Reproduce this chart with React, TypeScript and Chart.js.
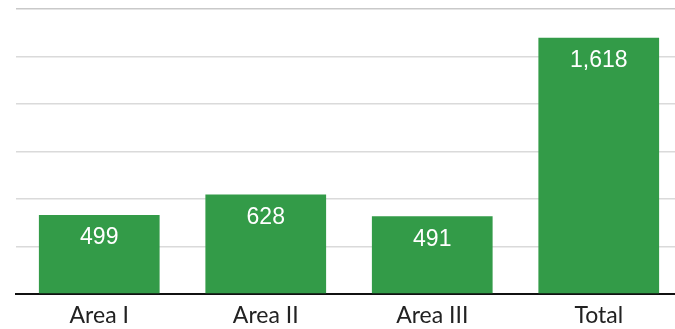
import React, { useEffect, useRef } from "react";
import { Chart, registerables } from "chart.js";

Chart.register(...registerables);

const categories = ["Area I", "Area II", "Area III", "Total"];
const values = [499, 628, 491, 1618];
const yMax = 1800;
const yStep = 300;

const barColor = "#339b48";

// Writes each bar's value in white just below its top edge
const valueLabels = {
  id: "valueLabels",
  afterDatasetsDraw(chart: any) {
    const ctx = chart.ctx;
    const meta = chart.getDatasetMeta(0);
    ctx.save();
    ctx.fillStyle = "#ffffff";
    ctx.font = '23px "Liberation Sans", Arial, sans-serif';
    ctx.textAlign = "center";
    ctx.textBaseline = "middle";
    meta.data.forEach((bar: any, i: number) => {
      ctx.fillText(values[i].toLocaleString("en-US"), bar.x, bar.y + 23);
    });
    ctx.restore();
  },
};

export default function App() {
  const canvasRef = useRef<HTMLCanvasElement | null>(null);

  useEffect(() => {
    document.body.style.margin = "0";
    const chart = new Chart(canvasRef.current as HTMLCanvasElement, {
      type: "bar",
      data: {
        labels: categories,
        datasets: [
          {
            data: values,
            backgroundColor: barColor,
            borderWidth: 0,
            categoryPercentage: 1,
            barPercentage: 0.725,
          },
        ],
      },
      options: {
        responsive: false,
        animation: false,
        devicePixelRatio: 1,
        layout: { padding: { top: 9, left: 0, right: 0, bottom: 0 } },
        plugins: {
          legend: { display: false },
          tooltip: { enabled: false },
        },
        scales: {
          x: {
            grid: { display: false, drawTicks: false },
            border: { display: true, color: "#111111", width: 2 },
            ticks: {
              color: "#222222",
              font: { family: "Lato, 'Open Sans', sans-serif", size: 23 },
              padding: 8,
            },
            afterFit(scale: any) {
              scale.height = 35;
            },
          },
          y: {
            min: 0,
            max: yMax,
            ticks: { display: false, stepSize: yStep },
            border: { display: false },
            grid: {
              drawTicks: false,
              lineWidth: 1.5,
              color: (c: any) =>
                c.tick && c.tick.value === yMax ? "#c9c9c9" : "#dadada",
            },
            afterFit(scale: any) {
              scale.width = 16;
            },
          },
        },
      },
      plugins: [valueLabels],
    });
    return () => chart.destroy();
  }, []);

  return (
    <div
      style={{
        position: "absolute",
        left: 0,
        top: 0,
        width: 675,
        height: 329,
        overflow: "hidden",
        background: "#ffffff",
      }}
    >
      <canvas ref={canvasRef} width={682} height={329} />
    </div>
  );
}
